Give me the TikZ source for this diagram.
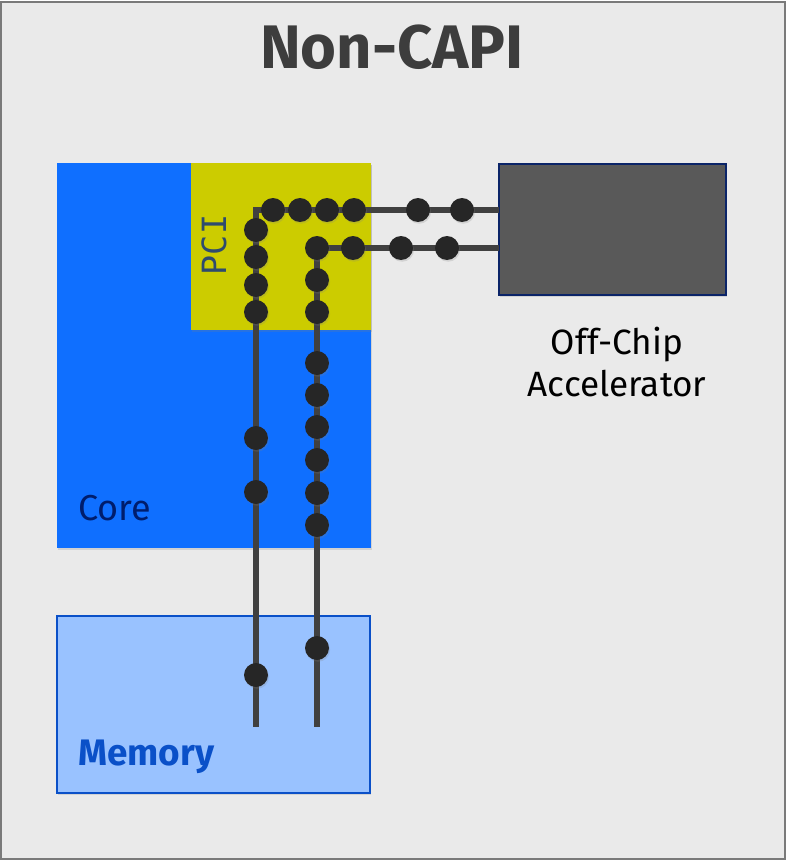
\documentclass[tikz,border=0pt]{standalone}
\usepackage{fontspec}
\setmainfont{Fira Sans}
\newfontfamily\pcifont{DejaVu Sans Mono}
\usetikzlibrary{shapes,positioning,shadows,calc}
\definecolor{bggray}{HTML}{EAEAEA}
\definecolor{framegray}{HTML}{7A7A7A}
\definecolor{coreblue}{HTML}{0F6FFF}
\definecolor{corenavy}{HTML}{001D6C}
\definecolor{pciyellow}{HTML}{CCCC00}
\definecolor{pcitext}{HTML}{2E4B6E}
\definecolor{accgray}{HTML}{595959}
\definecolor{accnavy}{HTML}{0B2468}
\definecolor{memblue}{HTML}{99C2FF}
\definecolor{memedge}{HTML}{0A50C8}
\definecolor{wiregray}{HTML}{404040}
\definecolor{beadblack}{HTML}{262626}
\definecolor{titlegray}{HTML}{3D3D3D}

\begin{document}
\begin{tikzpicture}[x=0.02cm, y=-0.02cm,
    block/.style={rectangle, inner sep=0pt, outer sep=0pt},
    softshadow/.style={drop shadow={opacity=0.22, shadow xshift=0.6pt, shadow yshift=-1pt}},
    wire/.style={draw=wiregray, line width=3.2pt},
    bead/.style={circle, fill=beadblack, inner sep=0pt, minimum size=0.48cm, softshadow},
    caption/.style={font=\fontsize{20.5}{24.4}\selectfont, align=center, inner sep=0pt}
]
\useasboundingbox (0,0) rectangle (787,862);

% --- frame and title ---
\node[block, draw=framegray, line width=1pt, fill=bggray,
      minimum width=15.68cm, minimum height=17.14cm] (frame) at (393,430.5) {};
\node[font=\fontsize{35}{38}\selectfont\bfseries, text=titlegray] (title) at (392,47) {Non-CAPI};

% --- blocks ---
\node[block, fill=coreblue, softshadow, minimum width=6.28cm, minimum height=7.7cm] (core) at (214,355.5) {};
\node[block, fill=pciyellow, softshadow, minimum width=3.6cm, minimum height=3.34cm] (pci) at (281,246.5) {};
\node[block, fill=accgray, draw=accnavy, line width=1pt, softshadow,
      minimum width=4.54cm, minimum height=2.62cm] (acc) at (612.5,229.5) {};
\node[block, fill=memblue, draw=memedge, line width=1.2pt, softshadow,
      minimum width=6.26cm, minimum height=3.54cm] (mem) at (213.5,704.5) {};

% --- labels ---
\node[caption, anchor=base west, text=corenavy] (coretag) at (78,520) {Core};
\node[caption, anchor=base west, text=memedge, font=\fontsize{21}{24.4}\selectfont\bfseries] (memtag) at (78,765) {Memory};
\node[rotate=90, font=\pcifont\fontsize{19}{22}\selectfont, text=pcitext] (pcitag) at (214,245) {PCI};
\node[caption, text=black, font=\fontsize{20}{24.4}\selectfont] (acctag) at (617,362) {Off-Chip\\Accelerator};

% --- wires ---
\coordinate (aTop) at (256,210);
\coordinate (aEnd) at (256,727);
\coordinate (bTop) at (317,248);
\coordinate (bEnd) at (317,727);
\draw[wire] (acc.west |- aTop) -- (aTop) -- (aEnd);
\draw[wire] (acc.west |- bTop) -- (bTop) -- (bEnd);

% --- beads on wire a ---
\node[bead] (a1) at (462,210) {};
\node[bead] (a2) at (418,210) {};
\node[bead] (a3) at (354,210) {};
\node[bead] (a4) at (327,210) {};
\node[bead] (a5) at (300,210) {};
\node[bead] (a6) at (273,210) {};
\node[bead] (a7) at (256,230) {};
\node[bead] (a8) at (256,257) {};
\node[bead] (a9) at (256,285) {};
\node[bead] (a10) at (256,312) {};
\node[bead] (a11) at (256,438) {};
\node[bead] (a12) at (256,492) {};
\node[bead] (a13) at (256,675) {};

% --- beads on wire b ---
\node[bead] (b1) at (447,248) {};
\node[bead] (b2) at (401,248) {};
\node[bead] (b3) at (353,248) {};
\node[bead] (b4) at (317,248) {};
\node[bead] (b5) at (317,280) {};
\node[bead] (b6) at (317,312) {};
\node[bead] (b7) at (317,363) {};
\node[bead] (b8) at (317,395) {};
\node[bead] (b9) at (317,427) {};
\node[bead] (b10) at (317,460) {};
\node[bead] (b11) at (317,493) {};
\node[bead] (b12) at (317,525) {};
\node[bead] (b13) at (317,648) {};

\end{tikzpicture}
\end{document}
